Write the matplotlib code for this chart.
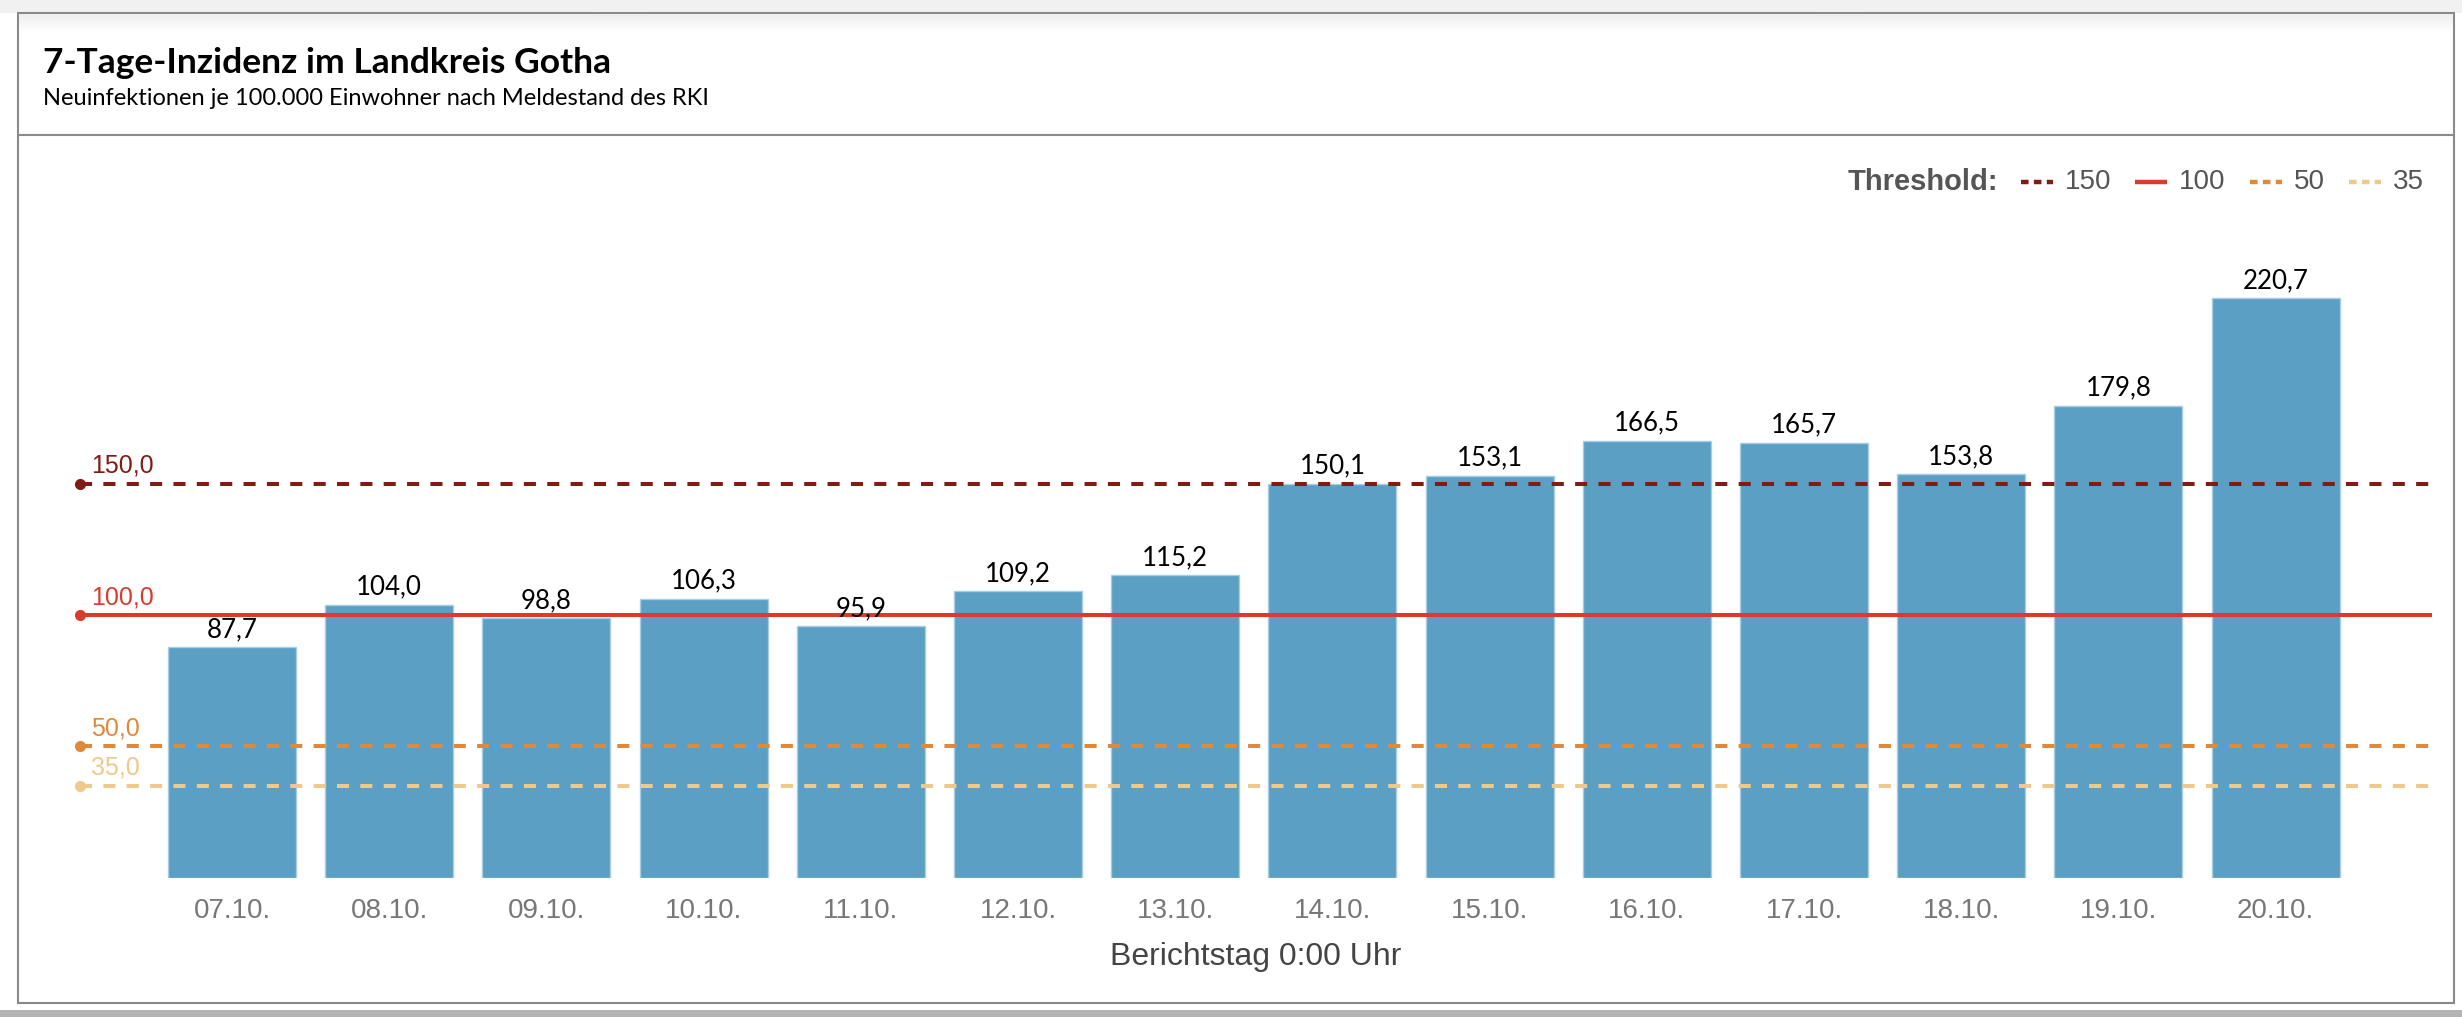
import matplotlib
matplotlib.use("Agg")
import matplotlib.pyplot as plt
from matplotlib.lines import Line2D
from matplotlib.patches import Rectangle
import numpy as np

# data
days = ["07.10.", "08.10.", "09.10.", "10.10.", "11.10.", "12.10.", "13.10.",
        "14.10.", "15.10.", "16.10.", "17.10.", "18.10.", "19.10.", "20.10."]
incidence = [87.7, 104.0, 98.8, 106.3, 95.9, 109.2, 115.2,
             150.1, 153.1, 166.5, 165.7, 153.8, 179.8, 220.7]
thresholds = [150, 100, 50, 35]
threshold_colors = ["#801c16", "#dc3a2d", "#e1893b", "#eec98b"]
threshold_styles = ["dashed", "solid", "dashed", "dashed"]

W, H = 2462, 1017


def fx(x):
    return x / W


def fy(y):
    return 1 - y / H


fig = plt.figure(figsize=(W / 100, H / 100), dpi=100)
fig.patch.set_facecolor("white")

# window frame like in the screenshot
fig.add_artist(Rectangle((0, fy(13)), 1, 1 - fy(13), transform=fig.transFigure,
                         facecolor="#f1f1f1", edgecolor="none", zorder=-3))
fig.add_artist(Rectangle((0, 0), 1, fy(1010), transform=fig.transFigure,
                         facecolor="#b4b4b4", edgecolor="none", zorder=-3))
fig.add_artist(Rectangle((fx(18), fy(1003)), fx(2454) - fx(18), fy(13) - fy(1003),
                         transform=fig.transFigure, facecolor="white",
                         edgecolor="#8a8a8a", linewidth=1.5, zorder=-2))
fig.add_artist(Line2D([fx(18), fx(2454)], [fy(135), fy(135)], transform=fig.transFigure,
                      color="#8a8a8a", linewidth=1.5, zorder=-1))
# soft shadow under the top edge
grad = fig.add_axes([fx(19), fy(34), fx(2453) - fx(19), fy(14) - fy(34)])
grad.imshow(np.linspace(0.93, 1.0, 20).reshape(-1, 1), cmap="gray", vmin=0, vmax=1,
            aspect="auto", interpolation="bilinear")
grad.axis("off")

# header
fig.text(fx(43), fy(73), "7-Tage-Inzidenz im Landkreis Gotha", family="Lato",
         fontweight="bold", fontsize=25.5, color="black", va="baseline")
fig.text(fx(43), fy(105), "Neuinfektionen je 100.000 Einwohner nach Meldestand des RKI",
         family="Lato", fontsize=17, color="black", va="baseline")

# plot area
left, right, base, top = 80, 2432, 877.5, 260
ax = fig.add_axes([fx(left), fy(base), fx(right) - fx(left), fy(top) - fy(base)])
ax.patch.set_visible(False)
px_per_unit = 2.624
ax.set_ylim(0, (base - top) / px_per_unit)
xmin, xmax = -0.967, 13.995
ax.set_xlim(xmin, xmax)
for s in ax.spines.values():
    s.set_visible(False)
ax.set_yticks([])

x = np.arange(len(days))
ax.bar(x, incidence, width=0.814, color="#5ba0c4", edgecolor="#a6cde1", linewidth=1, zorder=2)

for xi, v in zip(x, incidence):
    ax.annotate(f"{v:.1f}".replace(".", ","), xy=(xi, v), xytext=(0, 10),
                textcoords="offset pixels", ha="center", va="baseline",
                family="Lato", fontsize=18.6, color="black", zorder=5)

for t, c, ls in zip(thresholds, threshold_colors, threshold_styles):
    if ls == "dashed":
        style = (0, (3, 2.8))
    else:
        style = "solid"
    ax.plot([xmin, xmax], [t, t], color=c, linewidth=2.9, linestyle=style,
            clip_on=False, zorder=3, solid_capstyle="butt")
    ax.plot([xmin], [t], "o", color=c, markersize=7, clip_on=False, zorder=4)
    ax.annotate(f"{t:.1f}".replace(".", ","), xy=(xmin, t), xytext=(11, 11),
                textcoords="offset pixels", ha="left", va="baseline",
                family="Liberation Sans", fontsize=18, color=c, zorder=5)

ax.set_xticks(x, days)
ax.tick_params(axis="x", length=0, pad=15, labelsize=20, labelcolor="#777777")
for lab in ax.get_xticklabels():
    lab.set_family("Liberation Sans")
ax.set_xlabel("Berichtstag 0:00 Uhr", family="Liberation Sans", fontsize=23,
              color="#444444", labelpad=13)

# legend row at the top right
renderer = fig.canvas.get_renderer()
ly = fy(182.3)
head = fig.text(fx(1848), ly, "Threshold:", family="Liberation Sans", fontweight="bold",
                fontsize=21, color="#555555", va="center")
cur = head.get_window_extent(renderer).x1 + 22
for t, c, ls in zip(thresholds, threshold_colors, threshold_styles):
    if ls == "dashed":
        style = (0, (1.7, 1.2))
    else:
        style = "solid"
    fig.add_artist(Line2D([cur / W, (cur + 32) / W], [ly, ly], transform=fig.transFigure,
                          color=c, linewidth=3.2, linestyle=style, solid_capstyle="butt"))
    txt = fig.text((cur + 44) / W, ly, str(t), family="Liberation Sans", fontsize=20,
                   color="#555555", va="center")
    cur = txt.get_window_extent(renderer).x1 + 24

fig.savefig("out.png", dpi=100)
